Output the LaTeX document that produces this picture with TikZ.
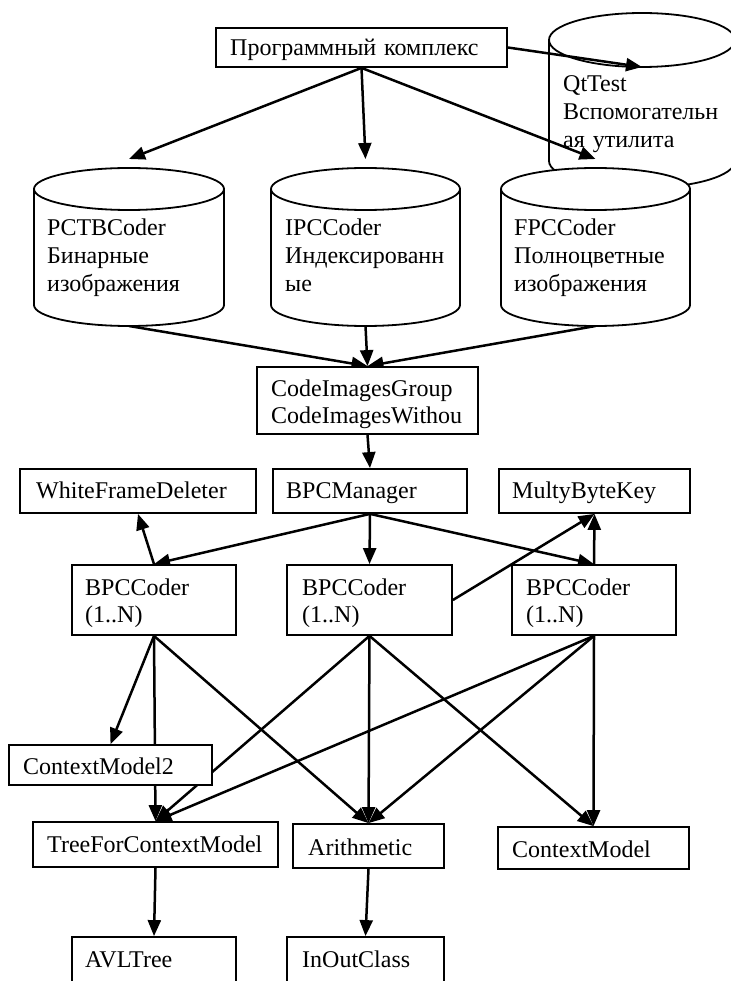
\documentclass[tikz,border=0pt]{standalone}
\usepackage{fontspec}
\setmainfont{Liberation Serif}
\usetikzlibrary{arrows.meta}
\pgfdeclarelayer{background}
\pgfsetlayers{background,main}
\tikzset{
  boxnode/.style={draw, line width=1.8pt, fill=white, rectangle, inner sep=0pt},
  txt/.style={anchor=base west, inner sep=0pt, text width=300pt, align=left,
              font=\fontsize{24}{27.6}\selectfont},
  conn/.style={draw, line width=2.5pt, -{Triangle[length=16pt,width=13pt]}},
  cylline/.style={line width=1.8pt},
}
\newcommand\mkbox[5]{\node[boxnode, minimum width={#4pt-#2pt}, minimum height={#5pt-#3pt}] (#1) at ({(#2+#4)/2},{(#3+#5)/2}) {};}
\newcommand\mkcyl[5]{%
  \filldraw[cylline, fill=white] (#1,#4) ellipse [x radius=#2, y radius=#5];
  \fill[white] ({#1-#2},#3) rectangle ({#1+#2},#4);
  \draw[cylline] ({#1-#2},#3) -- ({#1-#2},#4) ({#1+#2},#3) -- ({#1+#2},#4);
  \filldraw[cylline, fill=white] (#1,#3) ellipse [x radius=#2, y radius=#5];
}
\begin{document}
\begin{tikzpicture}[x=1pt, y=-1pt]
\useasboundingbox (0,0) rectangle (730,981);

% cylinders (main layer)
\mkcyl{129}{95}{189}{305}{21}
\mkcyl{365.5}{94.5}{189}{305}{21}
\mkcyl{595.5}{94.5}{189}{305}{21}
\coordinate (pctb-top) at (129,159);
\coordinate (ipc-top) at (365.5,159);
\coordinate (fpc-top) at (595.5,159);
\coordinate (pctb-bot) at (129,326);
\coordinate (ipc-bot) at (365.5,326);
\coordinate (fpc-bot) at (595.5,326);
\coordinate (qt-front) at (642,67);

% boxes
\mkbox{top}{216}{28}{507}{67}
\mkbox{cig}{257}{367}{478}{434}
\mkbox{wfd}{20}{469}{256}{513}
\mkbox{bpcm}{273}{469}{467}{513}
\mkbox{mbk}{499}{469}{690}{513}
\mkbox{bpc1}{72}{565}{236}{635}
\mkbox{bpc2}{287}{565}{452}{635}
\mkbox{bpc3}{512}{565}{676}{635}
\mkbox{cm2}{9}{745}{212}{785}
\mkbox{tree}{33}{822}{278}{867}
\mkbox{arith}{293}{824}{444}{868}
\mkbox{cm}{498}{827}{689}{869}
\mkbox{avl}{72}{937}{236}{1000}
\mkbox{inout}{287}{937}{444}{1000}

% texts
\node[txt] (t-top) at (230,56) {Программный комплекс};
\node[txt] (t-qt) at (563,92) {QtTest\\Вспомогательн\\ая утилита};
\node[txt] (t-pctb) at (47,236) {PCTBCoder\\Бинарные\\изображения};
\node[txt] (t-ipc) at (285,236) {IPCCoder\\Индексированн\\ые};
\node[txt] (t-fpc) at (514,236) {FPCCoder\\Полноцветные\\изображения};
\node[txt] (t-cig) at (271,396) {CodeImagesGroup\\CodeImagesWithou};
\node[txt] (t-wfd) at (36,498) {WhiteFrameDeleter};
\node[txt] (t-bpcm) at (286,498) {BPCManager};
\node[txt] (t-mbk) at (512,498) {MultyByteKey};
\node[txt] (t-bpc1) at (85,595) {BPCCoder\\(1..N)};
\node[txt] (t-bpc2) at (302,595) {BPCCoder\\(1..N)};
\node[txt] (t-bpc3) at (526,595) {BPCCoder\\(1..N)};
\node[txt] (t-cm2) at (23,774) {ContextModel2};
\node[txt] (t-tree) at (47,852) {TreeForContextModel};
\node[txt] (t-arith) at (308,855) {Arithmetic};
\node[txt] (t-cm) at (512,857) {ContextModel};
\node[txt] (t-avl) at (85,967) {AVLTree};
\node[txt] (t-inout) at (302,967) {InOutClass};

\begin{pgfonlayer}{background}
  \mkcyl{642}{93}{40}{161}{27}
  \draw[conn] (top.east) -- (qt-front);
  \draw[conn] (top.south) -- (pctb-top);
  \draw[conn] (top.south) -- (ipc-top);
  \draw[conn] (top.south) -- (fpc-top);
  \draw[conn] (pctb-bot) -- (cig.north);
  \draw[conn] (ipc-bot) -- (cig.north);
  \draw[conn] (fpc-bot) -- (cig.north);
  \draw[conn] (cig.south) -- (bpcm.north);
  \draw[conn] (bpcm.south) -- (bpc1.north);
  \draw[conn] (bpcm.south) -- (bpc2.north);
  \draw[conn] (bpcm.south) -- (bpc3.north);
  \draw[conn] (bpc1.north) -- (wfd.south);
  \draw[conn] (bpc3.north) -- (mbk.south);
  \draw[conn] (bpc2.east) -- (mbk.south);
  \draw[conn] (bpc1.south) -- (cm2.north);
  \draw[conn] (bpc1.south) -- (tree.north);
  \draw[conn] (bpc1.south) -- (arith.north);
  \draw[conn] (bpc2.south) -- (tree.north);
  \draw[conn] (bpc2.south) -- (arith.north);
  \draw[conn] (bpc2.south) -- (cm.north);
  \draw[conn] (bpc3.south) -- (tree.north);
  \draw[conn] (bpc3.south) -- (arith.north);
  \draw[conn] (bpc3.south) -- (cm.north);
  \draw[conn] (tree.south) -- (avl.north);
  \draw[conn] (arith.south) -- (inout.north);
\end{pgfonlayer}
\end{tikzpicture}
\end{document}
